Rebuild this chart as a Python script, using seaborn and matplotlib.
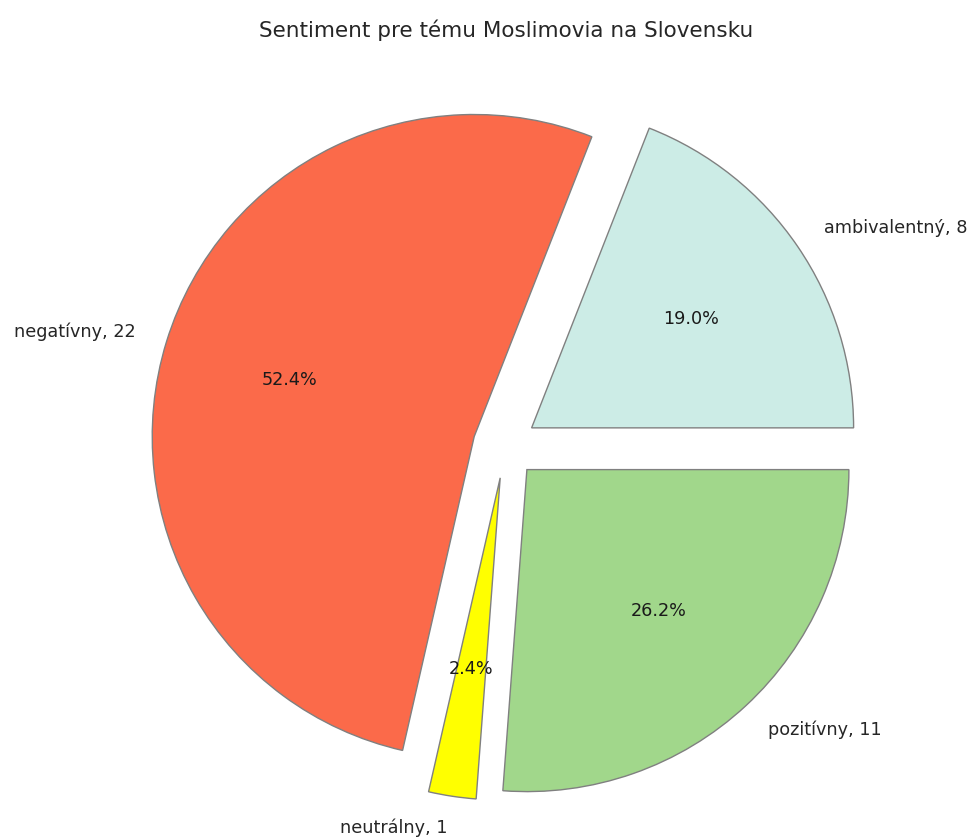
import matplotlib
matplotlib.use("Agg")
import matplotlib.pyplot as plt
import seaborn as sns

sns.set_style("white")
plt.rcParams['font.family'] = ['DejaVu Sans']

categories = ["ambivalentný", "negatívny", "neutrálny", "pozitívny"]
counts = [8, 22, 1, 11]
colors = ["#ccece6", "#fb6a4a", "#ffff00", "#a1d78b"]
explode = [0.1, 0.1, 0.1, 0.1]
title = "Sentiment pre tému Moslimovia na Slovensku"

W, H, DPI = 973, 839, 100
fig = plt.figure(figsize=(W / DPI, H / DPI), dpi=DPI)
# pie centre ~ (505, 446) px, radius ~322 px -> axes span 2.5 radii
size = 805
cx, cy = 505, 446
ax = fig.add_axes([(cx - size / 2) / W, (H - cy - size / 2) / H, size / W, size / H])

labels = [f"{c}, {v}" for c, v in zip(categories, counts)]
wedges, texts, autotexts = ax.pie(
    counts, labels=labels, colors=colors, explode=explode,
    autopct="%1.1f%%", startangle=0, counterclock=True,
    wedgeprops=dict(edgecolor="gray", linewidth=1),
    textprops=dict(fontsize=12.7, color="#262626"),
)
for t in autotexts:
    t.set_color("#1a1a1a")
ax.set_xlim(-1.25, 1.25)
ax.set_ylim(-1.25, 1.25)
ax.set_aspect("equal")
fig.text(506 / W, 1 - 30 / H, title, ha="center", va="center",
         fontsize=15.5, color="#262626")

fig.savefig("out.png", dpi=DPI, facecolor="white")
